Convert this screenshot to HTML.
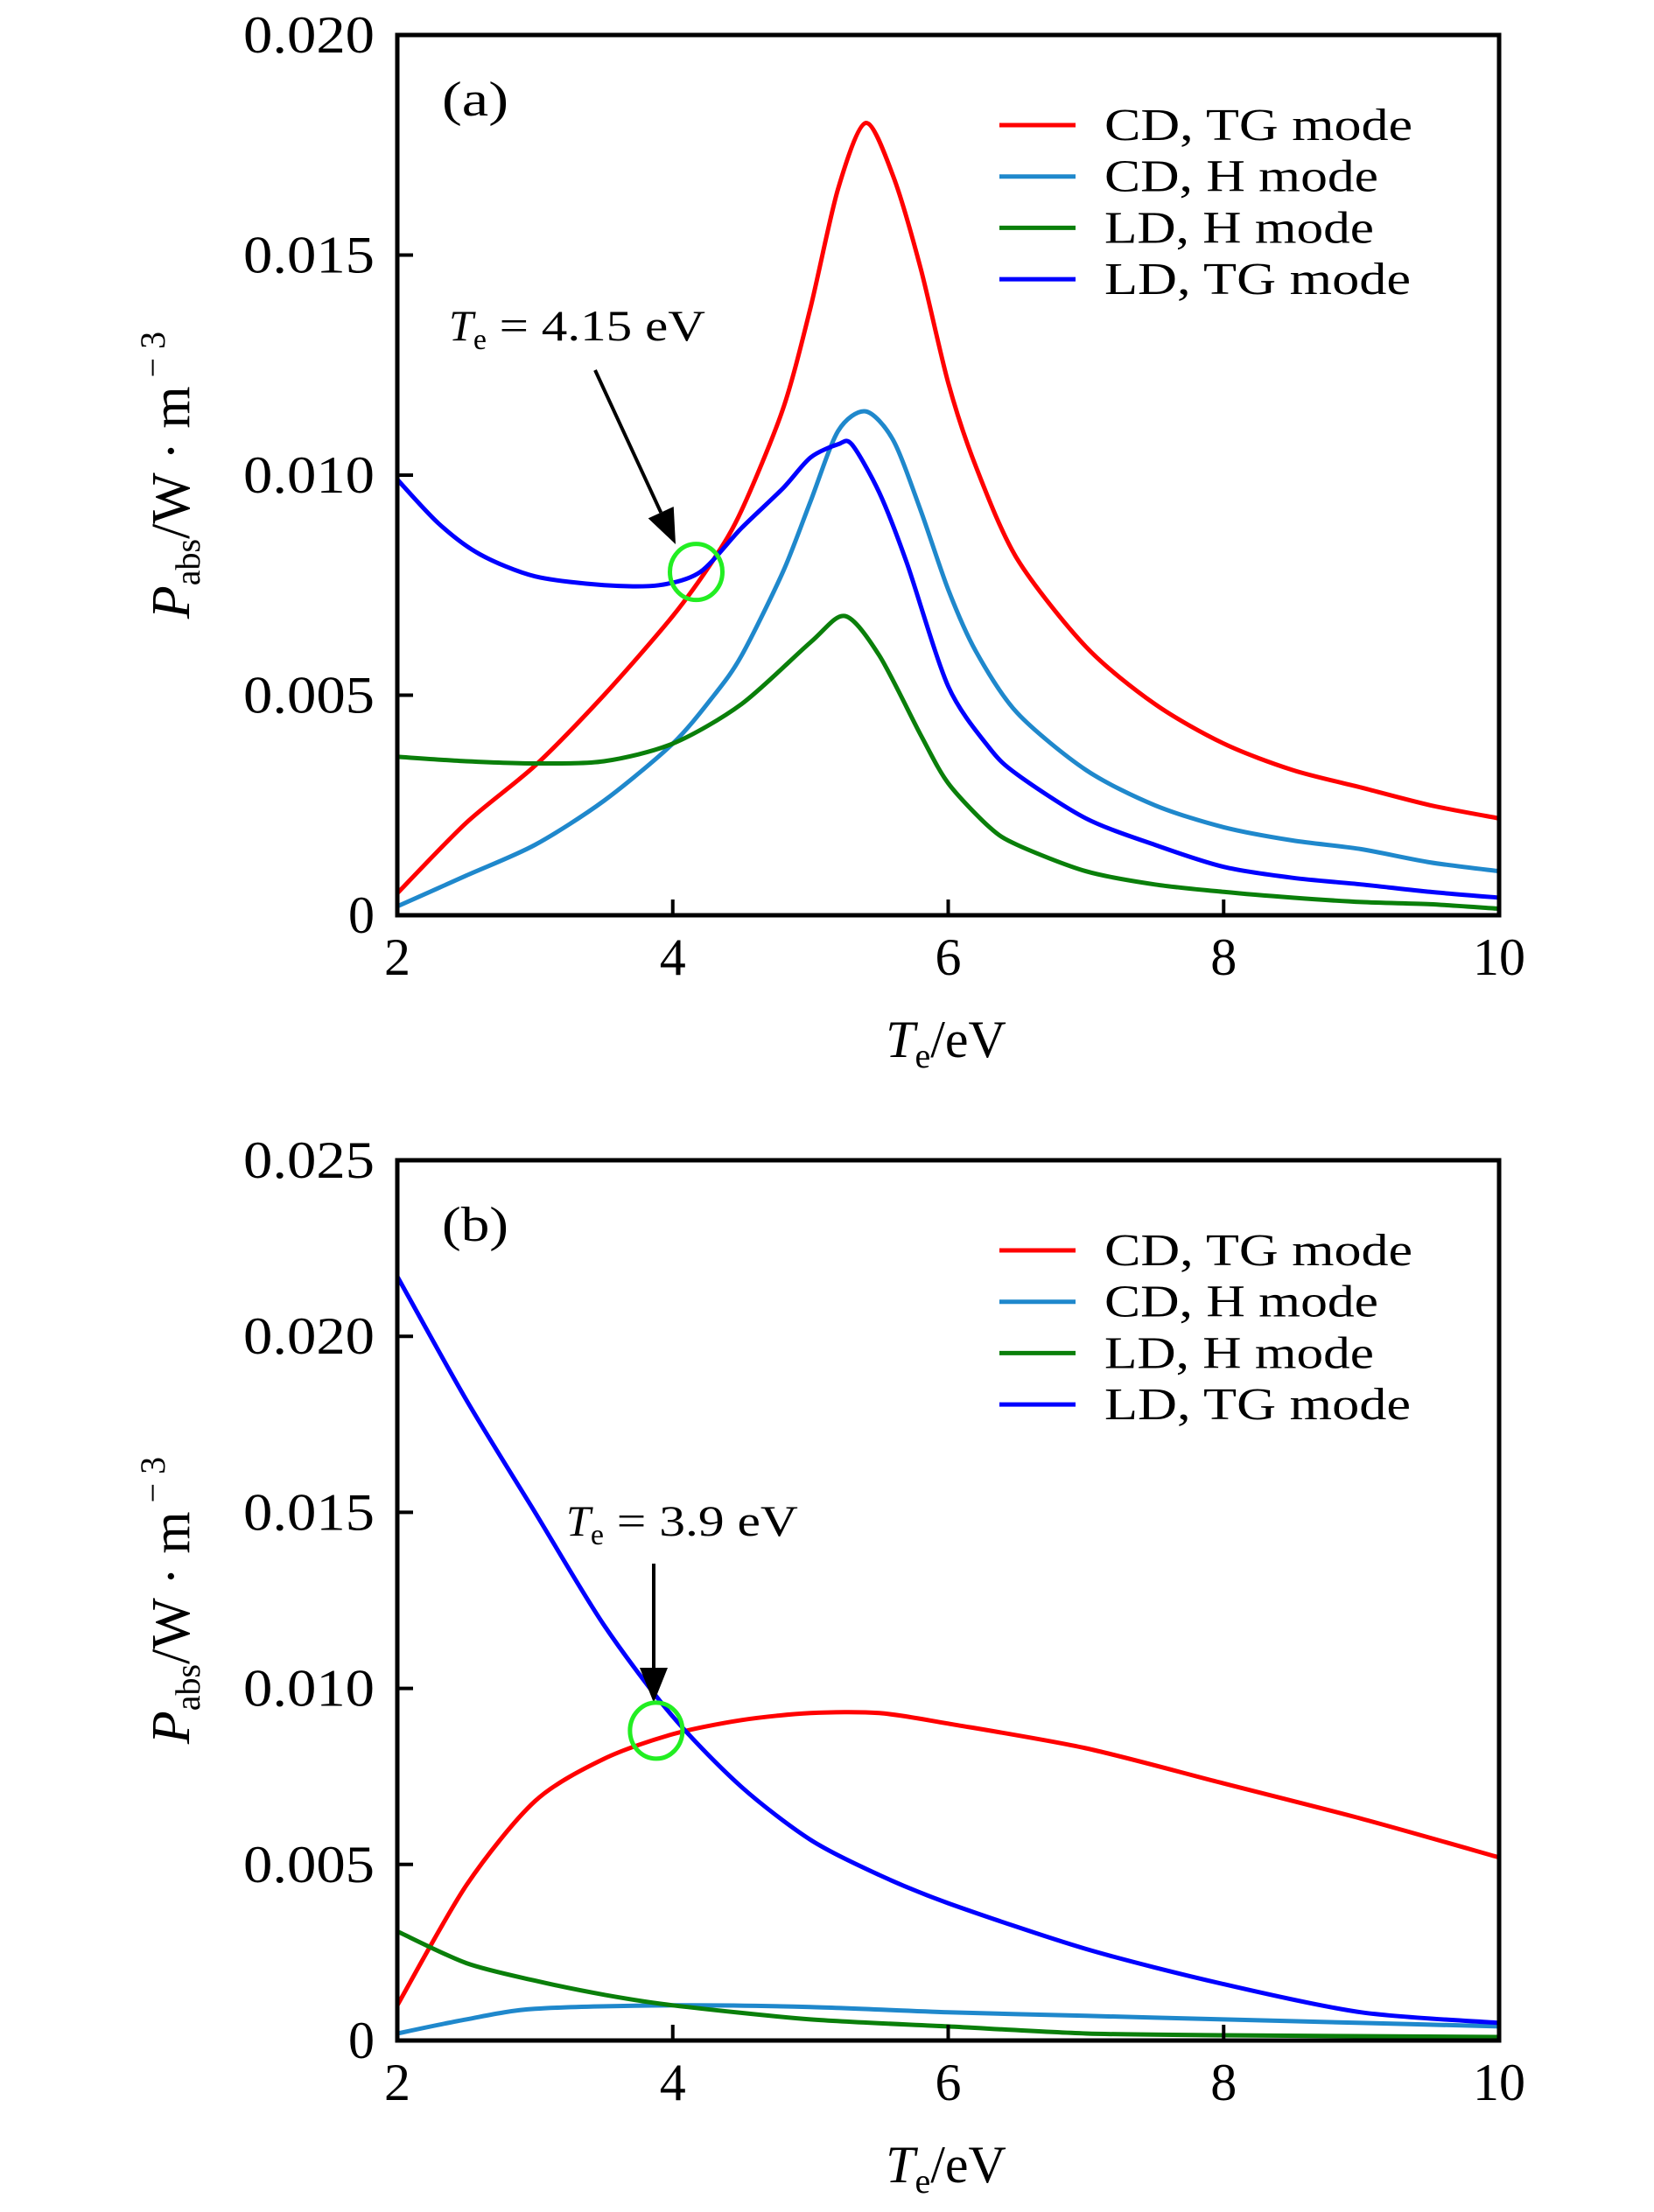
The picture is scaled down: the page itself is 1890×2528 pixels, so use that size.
<!DOCTYPE html>
<html><head><meta charset="utf-8"><style>
html,body{margin:0;padding:0;background:#fff}
svg{display:block}
text{font-family:"Liberation Serif",serif;fill:#000}
</style></head><body>
<svg id="chart" width="1890" height="2528" viewBox="0 0 1890 2528" xmlns="http://www.w3.org/2000/svg"></svg>
<script>
// ---------- data ----------
const xTicks = [2, 4, 6, 8, 10];
const yTicksA = [0, 0.005, 0.010, 0.015, 0.020];
const yTickLabelsA = ["0", "0.005", "0.010", "0.015", "0.020"];
const yTicksB = [0, 0.005, 0.010, 0.015, 0.020, 0.025];
const yTickLabelsB = ["0", "0.005", "0.010", "0.015", "0.020", "0.025"];
const seriesNames = ["CD, TG mode", "CD, H mode", "LD, H mode", "LD, TG mode"];

// Panel (a)
const aRedX = [2, 2.5, 3, 3.5, 4, 4.3, 4.5, 4.8, 5, 5.2, 5.4, 5.6, 5.8, 6, 6.2, 6.5, 7, 7.5, 8, 8.5, 9, 9.5, 10];
const aRedY = [0.0005, 0.0021, 0.0034, 0.0050, 0.0068, 0.0081, 0.0092, 0.0115, 0.0138, 0.0165, 0.0180, 0.0168, 0.0147, 0.0121, 0.0102, 0.0081, 0.0061, 0.0048, 0.0039, 0.0033, 0.0029, 0.0025, 0.0022];
const aLbX = [2, 2.5, 3, 3.5, 4, 4.3, 4.5, 4.8, 5, 5.2, 5.4, 5.6, 5.8, 6, 6.2, 6.5, 7, 7.5, 8, 8.5, 9, 9.5, 10];
const aLbY = [0.0002, 0.0009, 0.0016, 0.0026, 0.0039, 0.0050, 0.0059, 0.0078, 0.0094, 0.0110, 0.01145, 0.0108, 0.0092, 0.0074, 0.0060, 0.0046, 0.0033, 0.0025, 0.0020, 0.0017, 0.0015, 0.0012, 0.0010];
const aGreenX = [2, 2.5, 3, 3.5, 4, 4.5, 5, 5.25, 5.5, 5.8, 6, 6.3, 6.5, 7, 7.5, 8, 8.5, 9, 9.5, 10];
const aGreenY = [0.0036, 0.0035, 0.00345, 0.0035, 0.0039, 0.0048, 0.0062, 0.0068, 0.0059, 0.0041, 0.0030, 0.0020, 0.0016, 0.0010, 0.0007, 0.00053, 0.0004, 0.0003, 0.00025, 0.00015];
const aBlueX = [2, 2.3, 2.6, 3, 3.5, 3.9, 4.2, 4.5, 4.8, 5, 5.2, 5.3, 5.5, 5.7, 6, 6.3, 6.5, 7, 7.5, 8, 8.5, 9, 9.5, 10];
const aBlueY = [0.0099, 0.0089, 0.0082, 0.0077, 0.0075, 0.0075, 0.0078, 0.0088, 0.0097, 0.0104, 0.0107, 0.0107, 0.0096, 0.0080, 0.0052, 0.0038, 0.0032, 0.0022, 0.0016, 0.0011, 0.00085, 0.0007, 0.00053, 0.0004];

// Panel (b)
const bRedX = [2, 2.5, 3, 3.5, 4, 4.5, 5, 5.5, 6, 7, 8, 9, 10];
const bRedY = [0.0010, 0.0044, 0.0068, 0.0080, 0.0087, 0.0091, 0.0093, 0.0093, 0.0090, 0.0083, 0.0073, 0.0063, 0.0052];
const bLbX = [2, 2.5, 3, 4, 5, 6, 7, 8, 9, 10];
const bLbY = [0.0002, 0.0006, 0.0009, 0.0010, 0.00095, 0.0008, 0.0007, 0.0006, 0.0005, 0.0004];
const bGreenX = [2, 2.5, 3, 3.5, 4, 5, 6, 7, 8, 10];
const bGreenY = [0.0031, 0.0022, 0.0017, 0.0013, 0.0010, 0.0006, 0.0004, 0.0002, 0.00015, 0.0001];
const bBlueX = [2, 2.5, 3, 3.5, 4, 4.5, 5, 5.5, 6, 7, 8, 9, 10];
const bBlueY = [0.0217, 0.0182, 0.0150, 0.0118, 0.0092, 0.0072, 0.0057, 0.0047, 0.0039, 0.0026, 0.0016, 0.0008, 0.0005];

// ---------- drawing ----------
const NS = "http://www.w3.org/2000/svg";
const svg = document.getElementById("chart");
const colors = ["#ff0000", "#1f88cc", "#0a7f0a", "#0000ff"];
function mk(tag, attrs, parent) {
  const e = document.createElementNS(NS, tag);
  for (const k in attrs) e.setAttribute(k, attrs[k]);
  (parent || svg).appendChild(e);
  return e;
}
function smoothPath(px, py) {
  let d = "M" + px[0].toFixed(1) + "," + py[0].toFixed(1);
  for (let i = 0; i < px.length - 1; i++) {
    const x0 = px[Math.max(0, i - 1)], y0 = py[Math.max(0, i - 1)];
    const x1 = px[i], y1 = py[i], x2 = px[i + 1], y2 = py[i + 1];
    const x3 = px[Math.min(px.length - 1, i + 2)], y3 = py[Math.min(px.length - 1, i + 2)];
    const t = 0.14;
    const c1x = x1 + (x2 - x0) * t, c1y = y1 + (y2 - y0) * t;
    const c2x = x2 - (x3 - x1) * t, c2y = y2 - (y3 - y1) * t;
    d += " C" + c1x.toFixed(1) + "," + c1y.toFixed(1) + " " + c2x.toFixed(1) + "," + c2y.toFixed(1) + " " + x2.toFixed(1) + "," + y2.toFixed(1);
  }
  return d;
}

function panel(cfg) {
  const L = 454, R = 1713, T = cfg.top, B = cfg.bottom;
  const sx = v => L + (v - 2) / 8 * (R - L);
  const sy = v => B - v / cfg.ymax * (B - T);
  const g = mk("g", {});
  
  
  const clipId = cfg.name + "-clip";
  const cp = mk("clipPath", { id: clipId }, g);
  mk("rect", { x: L, y: T, width: R - L, height: B - T }, cp);

  const sg = mk("g", { "clip-path": "url(#" + clipId + ")" }, g);
  cfg.series.forEach((s, i) => {
    const p = mk("path", { d: smoothPath(s[0].map(sx), s[1].map(sy)), fill: "none", stroke: colors[i], "stroke-width": 5, "stroke-linejoin": "round" }, sg);
    
    
  });

  const fr = mk("rect", { x: L, y: T, width: R - L, height: B - T, fill: "none", stroke: "#000", "stroke-width": 5 }, g);
  
  

  xTicks.forEach(v => {
    mk("line", { x1: sx(v), x2: sx(v), y1: B, y2: B - 18, stroke: "#000", "stroke-width": 4 }, g);
    const t = mk("text", { x: sx(v), y: B + 68, "text-anchor": "middle", "font-size": 60 }, g);
    t.textContent = String(v);
    
    
  });
  cfg.yticks.forEach((v, i) => {
    mk("line", { x1: L, x2: L + 18, y1: sy(v), y2: sy(v), stroke: "#000", "stroke-width": 4 }, g);
    const lab = cfg.ylabels[i];
    const attrs = { x: 428, y: sy(v) + 20, "text-anchor": "end", "font-size": 60 };
    if (lab.length > 1) { attrs.textLength = 150; attrs.lengthAdjust = "spacingAndGlyphs"; }
    const t = mk("text", attrs, g);
    t.textContent = lab;
    
    
  });

  const pl = mk("text", { x: 505, y: T + 92, "font-size": 56, textLength: 76, lengthAdjust: "spacingAndGlyphs" }, g);
  pl.textContent = cfg.letter;
  
  

  const lg = mk("g", {}, g);
  
  
  const widths = [352, 313, 308, 350];
  seriesNames.forEach((n, i) => {
    const y = T + 103 + i * 58.7;
    const e = mk("g", {}, lg);
    
    
    mk("line", { x1: 1142, x2: 1229, y1: y, y2: y, stroke: colors[i], "stroke-width": 5 }, e);
    const t = mk("text", { x: 1262, y: y + 17, "font-size": 52, textLength: widths[i], lengthAdjust: "spacingAndGlyphs" }, e);
    t.textContent = n;
  });

  const an = mk("g", {}, g);
  
  
  const at = mk("text", { x: cfg.ann.tx, y: cfg.ann.ty, "font-size": 50 }, an);
  at.innerHTML = '<tspan font-style="italic">T</tspan><tspan font-size="34" dy="10">e</tspan><tspan dy="-10" textLength="' + cfg.ann.w + '" lengthAdjust="spacingAndGlyphs"> = ' + cfg.ann.val + ' eV</tspan>';
  const ax1 = cfg.ann.ax1, ay1 = cfg.ann.ay1, ax2 = cfg.ann.ax2, ay2 = cfg.ann.ay2;
  const ang = Math.atan2(ay2 - ay1, ax2 - ax1);
  const hl = 40, hw = 16;
  const bx = ax2 - hl * Math.cos(ang), by = ay2 - hl * Math.sin(ang);
  mk("line", { x1: ax1, y1: ay1, x2: bx, y2: by, stroke: "#000", "stroke-width": 4 }, an);
  mk("polygon", { points: [ax2, ay2, bx - hw * Math.sin(ang), by + hw * Math.cos(ang), bx + hw * Math.sin(ang), by - hw * Math.cos(ang)].join(","), fill: "#000" }, an);
  const circ = mk("ellipse", { cx: sx(cfg.ann.cx), cy: sy(cfg.ann.cy), rx: 30, ry: 32, fill: "none", stroke: "#22ee22", "stroke-width": 5 }, an);
  
  

  const xt = mk("text", { x: 1081, y: B + 162, "text-anchor": "middle", "font-size": 60 }, g);
  xt.innerHTML = '<tspan font-style="italic">T</tspan><tspan font-size="40" dy="12">e</tspan><tspan dy="-12">/eV</tspan>';
  
  
  const yc = (T + B) / 2;
  const yt = mk("text", { x: 0, y: 0, "text-anchor": "middle", "font-size": 62, transform: "translate(216," + yc + ") rotate(-90)" }, g);
  yt.innerHTML = '<tspan font-style="italic">P</tspan><tspan font-size="40" dy="12">abs</tspan><tspan dy="-12">/W · m</tspan><tspan font-size="40" dy="-28"> − 3</tspan>';
  
  
}

panel({
  name: "panel-a", letter: "(a)", top: 40, bottom: 1046, ymax: 0.020,
  yticks: yTicksA, ylabels: yTickLabelsA,
  series: [[aRedX, aRedY], [aLbX, aLbY], [aGreenX, aGreenY], [aBlueX, aBlueY]],
  ann: { tx: 513, ty: 389, val: "4.15", w: 250, ax1: 680, ay1: 423, ax2: 772, ay2: 622, cx: 4.17, cy: 0.0078 }
});
panel({
  name: "panel-b", letter: "(b)", top: 1326, bottom: 2332, ymax: 0.025,
  yticks: yTicksB, ylabels: yTickLabelsB,
  series: [[bRedX, bRedY], [bLbX, bLbY], [bGreenX, bGreenY], [bBlueX, bBlueY]],
  ann: { tx: 647, ty: 1755, val: "3.9", w: 222, ax1: 747, ay1: 1787, ax2: 747, ay2: 1946, cx: 3.88, cy: 0.0088 }
});
</script>
</body></html>
